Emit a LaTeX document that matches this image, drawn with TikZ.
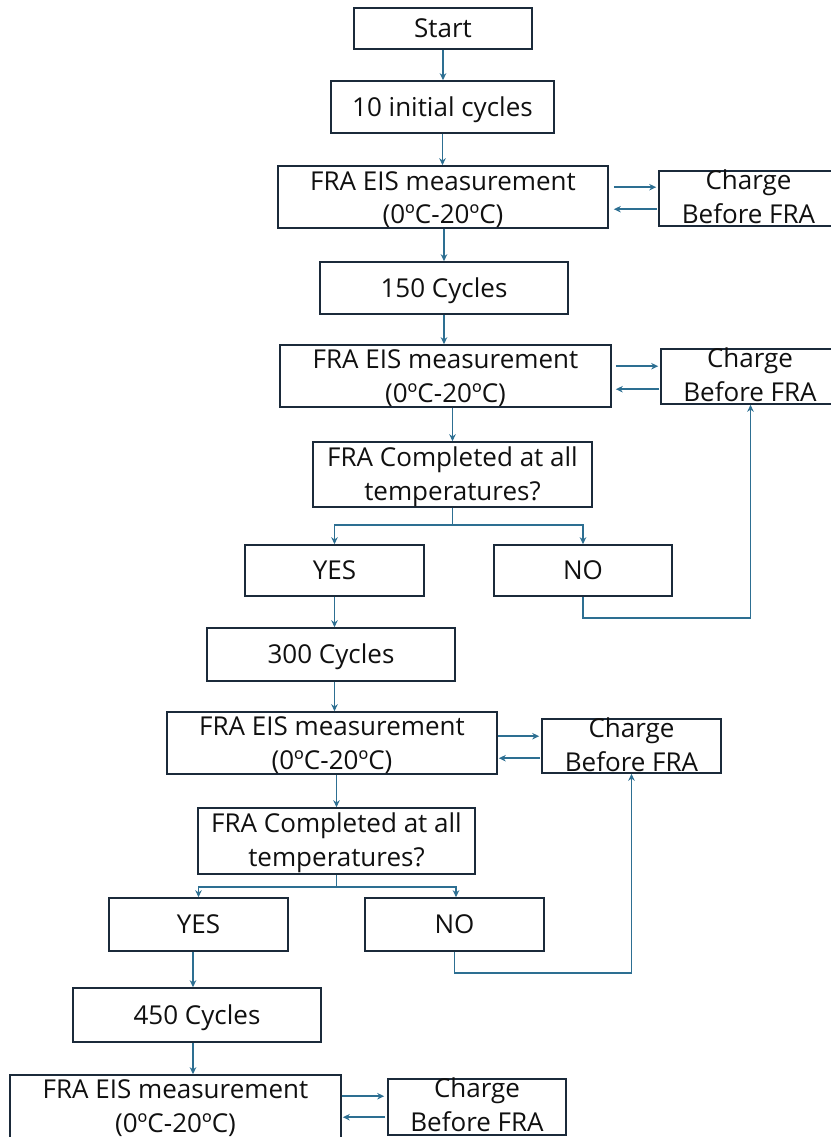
\documentclass[tikz,border=0pt]{standalone}
\usepackage{fontspec}
\setmainfont{Open Sans}
\usetikzlibrary{arrows.meta,calc}
\definecolor{boxc}{HTML}{1B2A3A}
\definecolor{linec}{HTML}{2D6F92}
\definecolor{txtc}{HTML}{101010}
\begin{document}
\begin{tikzpicture}[x=1pt,y=-1pt,
  box/.style={draw=boxc, line width=1.6pt, inner sep=0pt, text=txtc,
    text height=18.5pt, text depth=0pt, font=\fontsize{26}{30}\selectfont},
  txt/.style={inner sep=0pt, anchor=base, text=txtc, font=\fontsize{26}{30}\selectfont},
  conn/.style={draw=linec, line width=1.5pt, -{Stealth[length=7pt,width=6.5pt]}},
  wire/.style={draw=linec, line width=1.5pt}]
\useasboundingbox (0,0) rectangle (830,1137);

% ---- boxes ----
\node[box, minimum width=178pt, minimum height=41pt] (start) at (443,28.5) {Start};
\node[box, minimum width=223pt, minimum height=52pt] (init) at (442.5,107) {10 initial cycles};

\node[box, minimum width=330pt, minimum height=62pt] (fra1) at (443,197) {};
\node[txt] (fra1a) at (443,190) {FRA EIS measurement};
\node[txt] (fra1b) at (443,223.5) {(0ºC-20ºC)};
\node[box, minimum width=179pt, minimum height=55pt] (ch1) at (748.5,198.5) {};
\node[txt] (ch1a) at (748.5,189) {Charge};
\node[txt] (ch1b) at (748.5,223) {Before FRA};

\node[box, minimum width=248pt, minimum height=52pt] (c150) at (444,288) {150 Cycles};

\node[box, minimum width=331pt, minimum height=62pt] (fra2) at (445.5,376) {};
\node[txt] (fra2a) at (445.5,368.5) {FRA EIS measurement};
\node[txt] (fra2b) at (445.5,402) {(0ºC-20ºC)};
\node[box, minimum width=179pt, minimum height=55pt] (ch2) at (750.5,376.5) {};
\node[txt] (ch2a) at (750,367) {Charge};
\node[txt] (ch2b) at (750,401) {Before FRA};

\node[box, minimum width=279pt, minimum height=65pt] (comp1) at (452.5,474.5) {};
\node[txt] (comp1a) at (452.5,466.5) {FRA Completed at all};
\node[txt] (comp1b) at (452.5,500.5) {temperatures?};

\node[box, minimum width=179pt, minimum height=51pt] (yes1) at (334.5,570.5) {YES};
\node[box, minimum width=178pt, minimum height=51pt] (no1) at (583,570.5) {NO};

\node[box, minimum width=248pt, minimum height=53pt] (c300) at (331,654.5) {300 Cycles};

\node[box, minimum width=330pt, minimum height=62pt] (fra3) at (332,743) {};
\node[txt] (fra3a) at (332,735.5) {FRA EIS measurement};
\node[txt] (fra3b) at (332,769) {(0ºC-20ºC)};
\node[box, minimum width=179pt, minimum height=54pt] (ch3) at (631.5,746) {};
\node[txt] (ch3a) at (631.5,737) {Charge};
\node[txt] (ch3b) at (631.5,771) {Before FRA};

\node[box, minimum width=277pt, minimum height=66pt] (comp2) at (336.5,841) {};
\node[txt] (comp2a) at (336.5,832.5) {FRA Completed at all};
\node[txt] (comp2b) at (336.5,866.5) {temperatures?};

\node[box, minimum width=179pt, minimum height=53pt] (yes2) at (198.5,924.5) {YES};
\node[box, minimum width=179pt, minimum height=53pt] (no2) at (454.5,924.5) {NO};

\node[box, minimum width=248pt, minimum height=54pt] (c450) at (197,1015) {450 Cycles};

\node[box, minimum width=331pt, minimum height=64pt] (fra4) at (175.5,1107) {};
\node[txt] (fra4a) at (175.5,1098.5) {FRA EIS measurement};
\node[txt] (fra4b) at (175.5,1132) {(0ºC-20ºC)};
\node[box, minimum width=178pt, minimum height=56pt] (ch4) at (477,1107) {};
\node[txt] (ch4a) at (477,1097) {Charge};
\node[txt] (ch4b) at (477,1131) {Before FRA};

% ---- vertical flow ----
\draw[conn] (start.south) -- (start.south |- init.north);
\draw[conn] (init.south) -- (init.south |- fra1.north);
\draw[conn] (c150.north |- fra1.south) -- (c150.north);
\draw[conn] (c150.south) -- (c150.south |- fra2.north);
\draw[conn] (comp1.north |- fra2.south) -- (comp1.north);
\draw[conn] (yes1.south) -- (yes1.south |- c300.north);
\draw[conn] (c300.south -| yes1.south) -- (fra3.north -| yes1.south);
\draw[conn] (comp2.north |- fra3.south) -- (comp2.north);
\draw[conn] ($(c450.north |- yes2.south)+(-4,0)$) -- ($(c450.north)+(-4,0)$);
\draw[conn] ($(c450.south)+(-4,0)$) -- ($(c450.south |- fra4.north)+(-4,0)$);

% ---- decision branches ----
\draw[wire] (comp1.south) -- ++(0,17) coordinate (b1);
\draw[conn] (b1) -| (yes1.north);
\draw[conn] (b1) -| (no1.north);
\draw[conn] (no1.south) -- ++(0,21) -| (ch2.south);

\draw[wire] (comp2.south) -- ++(0,12) coordinate (b2);
\draw[conn] (b2) -| (yes2.north);
\draw[conn] (b2) -| ($(no2.north)+(1.5,0)$);
\draw[conn] (no2.south) -- ++(0,21) -| (ch3.south);

% ---- charge loops ----
\draw[conn] ($(fra1.north east)+(5,22)$) -- ($(ch1.west |- fra1.north)+(-2,22)$);
\draw[conn] ($(ch1.west |- fra1.north)+(-1,44)$) -- ($(fra1.north east)+(5,44)$);
\draw[conn] ($(fra2.north east)+(4,22)$) -- ($(ch2.west |- fra2.north)+(-2,22)$);
\draw[conn] ($(ch2.west |- fra2.north)+(-1,45)$) -- ($(fra2.north east)+(4,45)$);
\draw[conn] ($(fra3.north east)+(0,25)$) -- ($(ch3.west |- fra3.north)+(-2,25)$);
\draw[conn] ($(ch3.west |- fra3.north)+(-1,47)$) -- ($(fra3.north east)+(1,47)$);
\draw[conn] ($(fra4.north east)+(0,22)$) -- ($(ch4.west |- fra4.north)+(-3,22)$);
\draw[conn] ($(ch4.west |- fra4.north)+(-2,43)$) -- ($(fra4.north east)+(1,43)$);
\end{tikzpicture}
\end{document}
